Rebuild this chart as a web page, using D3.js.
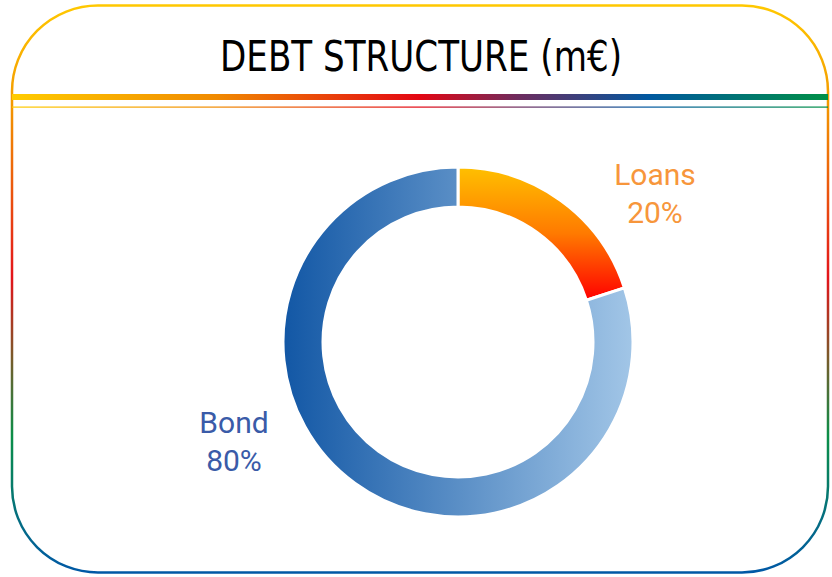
<!DOCTYPE html>
<html>
<head>
<meta charset="utf-8">
<script src="https://cdn.jsdelivr.net/npm/d3@7"></script>
<style>
  body { margin: 0; background: #fff; }
  svg { display: block; }
</style>
</head>
<body>
<div class="result"></div>
<script>
// Data
const categories = ['Loans', 'Bond'];
const shares = [20, 80];
const percentLabels = ['20%', '80%'];
const title = 'DEBT STRUCTURE (m€)';

// Width and height
const w = 832;
const h = 577;
const cx = 458;
const cy = 342;
const outerR = 175;
const innerR = 135;

// Label anchor points (centre x, baseline of first line)
const labelPos = [[655, 185], [234, 433]];
const labelColors = ['#F7963B', '#3A5BA8'];

const svg = d3.select('.result')
  .append('svg')
  .attr('width', w)
  .attr('height', h);

const defs = svg.append('defs');

// Card border gradient (top to bottom)
const borderGrad = defs.append('linearGradient')
  .attr('id', 'borderGrad')
  .attr('gradientUnits', 'userSpaceOnUse')
  .attr('x1', 0).attr('y1', 5).attr('x2', 0).attr('y2', 573);
[[0, '#FFC800'], [0.17, '#F39A00'], [0.48, '#E3141B'], [0.62, '#7A5A2A'], [0.76, '#0A8F48'], [1, '#0058A6']]
  .forEach(function (s) {
    borderGrad.append('stop').attr('offset', s[0]).attr('stop-color', s[1]);
  });

// Header stripe gradient (left to right)
const stripeGrad = defs.append('linearGradient')
  .attr('id', 'stripeGrad')
  .attr('gradientUnits', 'userSpaceOnUse')
  .attr('x1', 12).attr('y1', 0).attr('x2', 828).attr('y2', 0);
[[0, '#FFCC00'], [0.25, '#F08A00'], [0.5, '#E30613'], [0.62, '#6E2C5E'], [0.78, '#0058A0'], [1, '#009046']]
  .forEach(function (s) {
    stripeGrad.append('stop').attr('offset', s[0]).attr('stop-color', s[1]);
  });

// Slice gradients (coordinates relative to the donut centre)
const loansGrad = defs.append('linearGradient')
  .attr('id', 'grad0')
  .attr('gradientUnits', 'userSpaceOnUse')
  .attr('x1', 0).attr('y1', -outerR).attr('x2', 0).attr('y2', -42);
loansGrad.append('stop').attr('offset', 0).attr('stop-color', '#FFC000');
loansGrad.append('stop').attr('offset', 0.5).attr('stop-color', '#FF7A00');
loansGrad.append('stop').attr('offset', 1).attr('stop-color', '#FF0000');

const bondGrad = defs.append('linearGradient')
  .attr('id', 'grad1')
  .attr('gradientUnits', 'userSpaceOnUse')
  .attr('x1', -outerR).attr('y1', 0).attr('x2', outerR).attr('y2', 0);
bondGrad.append('stop').attr('offset', 0).attr('stop-color', '#1257A5');
bondGrad.append('stop').attr('offset', 1).attr('stop-color', '#A2C6E7');

// Card outline
svg.append('rect')
  .attr('x', 12)
  .attr('y', 5.5)
  .attr('width', 816)
  .attr('height', 567)
  .attr('rx', 86)
  .attr('ry', 86)
  .attr('fill', '#fff')
  .attr('stroke', 'url(#borderGrad)')
  .attr('stroke-width', 2.5);

// Header stripes
svg.append('rect')
  .attr('x', 12).attr('y', 94)
  .attr('width', 816).attr('height', 6)
  .attr('fill', 'url(#stripeGrad)');
svg.append('rect')
  .attr('x', 12).attr('y', 106.5)
  .attr('width', 816).attr('height', 1.2)
  .attr('fill', 'url(#stripeGrad)');

// Title
svg.append('text')
  .attr('x', 421)
  .attr('y', 71)
  .attr('text-anchor', 'middle')
  .attr('font-family', '"Liberation Sans Narrow", "DejaVu Sans Condensed", "Roboto", sans-serif')
  .attr('font-size', 43)
  .attr('textLength', 402)
  .attr('lengthAdjust', 'spacingAndGlyphs')
  .attr('fill', '#000')
  .text(title);

// Donut
const pie = d3.pie().sort(null).value(function (d) { return d; });
const arc = d3.arc().innerRadius(innerR).outerRadius(outerR);

const g = svg.append('g').attr('transform', 'translate(' + cx + ',' + cy + ')');
g.selectAll('path')
  .data(pie(shares))
  .enter()
  .append('path')
  .attr('d', arc)
  .attr('fill', function (d, i) { return 'url(#grad' + i + ')'; })
  .attr('stroke', '#fff')
  .attr('stroke-width', 3);

// Labels
const labels = svg.selectAll('.lbl')
  .data(categories)
  .enter()
  .append('text')
  .attr('class', 'lbl')
  .attr('text-anchor', 'middle')
  .attr('font-family', 'Roboto, sans-serif')
  .attr('font-size', 30)
  .attr('fill', function (d, i) { return labelColors[i]; });
labels.append('tspan')
  .attr('x', function (d, i) { return labelPos[i][0]; })
  .attr('y', function (d, i) { return labelPos[i][1]; })
  .text(function (d) { return d; });
labels.append('tspan')
  .attr('x', function (d, i) { return labelPos[i][0]; })
  .attr('y', function (d, i) { return labelPos[i][1] + 38; })
  .text(function (d, i) { return percentLabels[i]; });
</script>
</body>
</html>
